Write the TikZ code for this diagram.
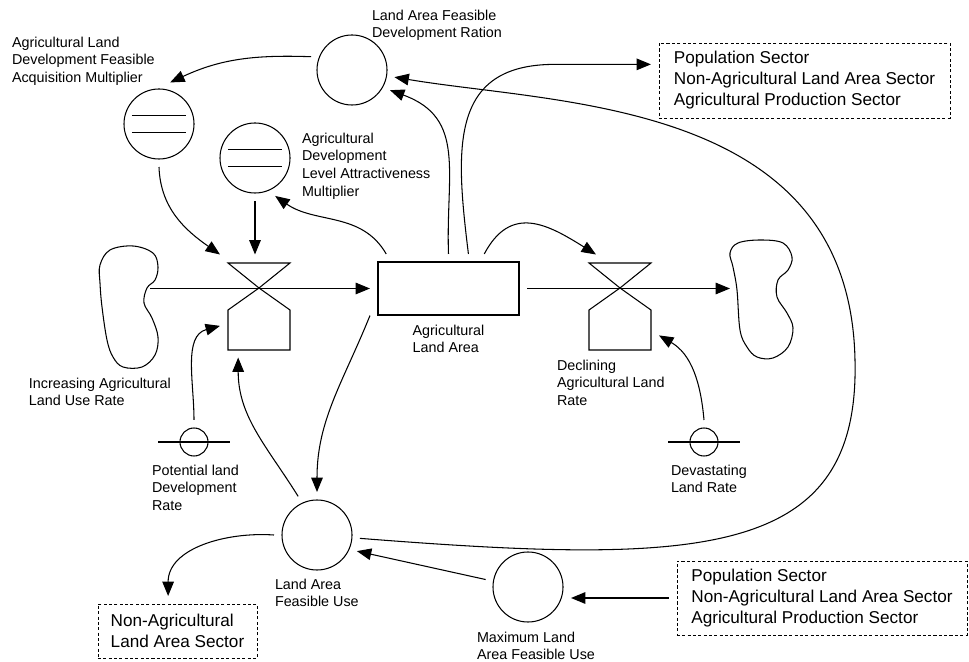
\documentclass[tikz,border=0pt]{standalone}
\usepackage{fontspec}
\setmainfont{Liberation Sans}
\usetikzlibrary{arrows.meta,calc,positioning}

\begin{document}
\begin{tikzpicture}[
    x=0.025cm, y=-0.025cm, line width=0.75pt,
    link/.style={draw=black, -{Triangle[length=0.36cm,width=0.29cm]}},
    flow/.style={draw=black, -{Triangle[length=0.36cm,width=0.29cm]}},
    aux/.style={draw, circle, minimum size=1.75cm, inner sep=0pt, outer sep=0.2cm},
    rate/.style={draw, circle, minimum size=0.7cm, inner sep=0pt, outer sep=0.2cm},
    stockbox/.style={draw, rectangle, minimum width=3.525cm, minimum height=1.325cm, inner sep=0pt, outer sep=0.2cm},
    valvebox/.style={rectangle, minimum width=1.55cm, minimum height=2.175cm, inner sep=0pt, outer sep=0.2cm},
    cloudbox/.style={rectangle, inner sep=0pt, outer sep=0pt},
    sector/.style={draw, dashed, dash pattern=on 2.2pt off 1.6pt, line width=0.6pt, align=left, inner sep=0pt, outer sep=0.2cm, font=\fontsize{12.2}{14.9}\selectfont},
    lab/.style={anchor=north west, align=left, inner sep=0pt, outer sep=0pt, font=\fontsize{10.2}{12.5}\selectfont}
]
    \tikzset{
        tabfn/.style={aux,
            path picture={
                \draw ([shift={(-0.68cm,0.21cm)}]path picture bounding box.center) -- ++(1.36cm,0);
                \draw ([shift={(-0.68cm,-0.21cm)}]path picture bounding box.center) -- ++(1.36cm,0);
            }
        }
    }
    \useasboundingbox (0,0) rectangle (969,662);

    % Nivel y valvulas
    \node[stockbox] (stock) at (448.5,288.5) {};
    \node[lab, below=0.05cm of stock] (stocklab) {Agricultural\\Land Area};
    \node[valvebox] (vin) at (259,306) {};
    \node[valvebox] (vout) at (620,306) {};
    \foreach \v in {vin,vout}
        \draw[shift={(\v.center)}] (-31,-43) -- (31,-43) -- (0,-18) -- cycle
            (0,-18) -- (31,4) -- (31,44) -- (-31,44) -- (-31,4) -- cycle;

    % Nubes de fuente y sumidero
    \node[cloudbox, minimum width=1.25cm, minimum height=3cm] (src) at (125,306) {};
    \draw plot[smooth cycle, tension=0.6] coordinates {(100,265) (110,250) (133,246) (153,253) (158,267) (155,280) (147,288) (144,303) (152,318) (158,337) (155,355) (142,367) (123,367) (113,357) (107,340) (102,307) (100,283)};
    \node[cloudbox, minimum width=1.55cm, minimum height=2.9cm] (sink) at (761,299) {};
    \draw plot[smooth cycle, tension=0.6] coordinates {(730,253) (738,243) (760,240) (783,243) (792,257) (788,270) (778,280) (777,297) (787,313) (793,328) (788,347) (773,358) (757,357) (747,347) (740,330) (737,290) (733,267)};

    % Auxiliares
    \node[aux] (lafdr) at (352,70) {};
    \node[tabfn] (aldfam) at (159,124) {};
    \node[tabfn] (adlam) at (255,158) {};
    \node[aux] (lafu) at (317,535) {};
    \node[aux] (mlafu) at (528,587) {};
    \node[rate] (pldr) at (194,442) {};
    \draw ([xshift=-0.89cm]pldr.center) -- ([xshift=0.89cm]pldr.center);
    \node[rate] (dlr) at (704,442) {};
    \draw ([xshift=-0.89cm]dlr.center) -- ([xshift=0.89cm]dlr.center);

    % Sectores externos
    \node[sector, minimum width=7.275cm, minimum height=1.875cm] (sectop) at (804.5,80.5) {Population Sector\\Non-Agricultural Land Area Sector\\Agricultural Production Sector};
    \node[sector, minimum width=7.25cm, minimum height=1.85cm] (secbot) at (822,598) {Population Sector\\Non-Agricultural Land Area Sector\\Agricultural Production Sector};
    \node[sector, minimum width=3.975cm, minimum height=1.35cm] (nonag) at (177.5,631) {Non-Agricultural\\Land Area Sector};

    % Etiquetas
    \node[lab] (lafdrlab) at (372,10) {Land Area Feasible\\Development Ration};
    \node[lab] (aldfamlab) at (12,37) {Agricultural Land\\Development Feasible\\Acquisition Multiplier};
    \node[lab] (adlamlab) at (302,133) {Agricultural\\Development\\Level Attractiveness\\Multiplier};
    \node[lab] (vinlab) at (29,378) {Increasing Agricultural\\Land Use Rate};
    \node[lab] (voutlab) at (557,360) {Declining\\Agricultural Land\\Rate};
    \node[lab] (pldrlab) at (152,465) {Potential land\\Development\\Rate};
    \node[lab] (dlrlab) at (671,465) {Devastating\\Land Rate};
    \node[lab] (lafulab) at (275,579) {Land Area\\Feasible Use};
    \node[lab] (mlafulab) at (477,632) {Maximum Land\\Area Feasible Use};

    % Flujos
    \draw[flow] (src.east |- stock.west) -- (stock.west);
    \draw[flow] (stock.east) -- (stock.east -| sink.west);

    % Enlaces de informacion
    \draw[link] (lafdr.162) to[out=178,in=25] (aldfam.75);
    \draw[link] (aldfam.south) to[out=-88,in=145] (vin.north west);
    \draw[link] (adlam.south) -- (adlam.south |- vin.north);
    \draw[link] (stock.151) to[out=120,in=-35] (adlam.-62);
    \draw[link] (stock.north) to[out=92,in=-20,looseness=1.2] (lafdr.-28);
    \draw[link] (stock.60) to[out=97,in=180,looseness=1.3] ([xshift=-2.4cm]sectop.174) -- (sectop.174);
    \draw[link] (stock.44) to[out=62,in=148,looseness=1.3] (vout.115);
    \draw[link] (stock.199) to[out=-112,in=90] (lafu.north);
    \draw[link] (lafu.116) to[out=122,in=-90] (vin.-112);
    \draw[link] (pldr.north) to[out=90,in=195] (vin.207);
    \draw[link] (dlr.north) to[out=95,in=-30] (vout.-37);
    \coordinate (loopright) at (855,360);
    \draw[link] (lafu) .. controls (700,565) and (860,560) .. (loopright) .. controls (850,100) and (560,105) .. (lafdr);
    \draw[link] (mlafu.170) -- (lafu.-22);
    \draw[link] (secbot.west) -- (secbot.west -| mlafu.east);
    \draw[link] (lafu.west) to[out=176,in=90] (nonag.105);
\end{tikzpicture}
\end{document}
